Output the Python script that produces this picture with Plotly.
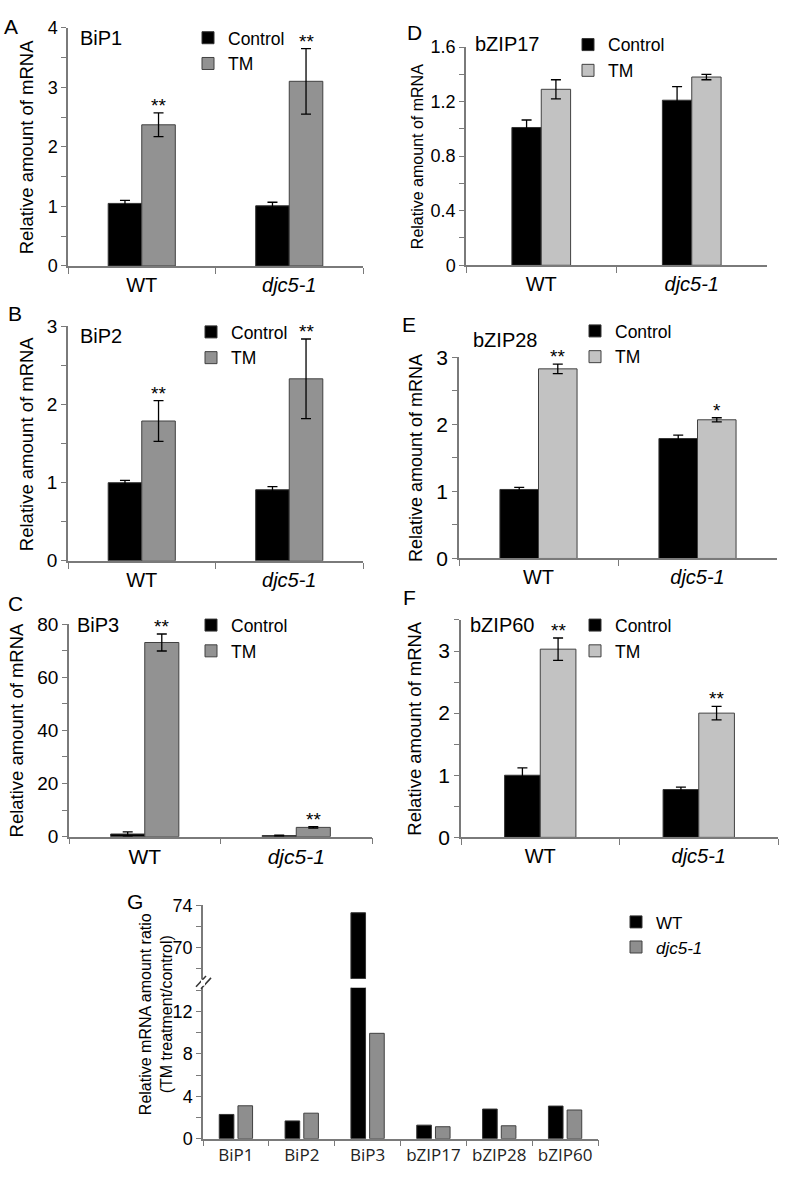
import plotly.graph_objects as go

W, H = 788, 1185
FONT = "Arial, Liberation Sans, sans-serif"
FONT_G = "Open Sans, Noto Sans, sans-serif"

# ---------------- data ----------------
groups = ["WT", "djc5-1"]
group_ticktext = ["WT", "<i>djc5-1</i>"]
series_names = ["Control", "TM"]

bip1_ctrl = [1.05, 1.01]
bip1_ctrl_err = [0.05, 0.06]
bip1_tm = [2.37, 3.10]
bip1_tm_err = [0.20, 0.55]
bip1_sig = ["**", "**"]

bip2_ctrl = [1.00, 0.91]
bip2_ctrl_err = [0.03, 0.04]
bip2_tm = [1.79, 2.33]
bip2_tm_err = [0.26, 0.51]
bip2_sig = ["**", "**"]

bip3_ctrl = [1.0, 0.4]
bip3_ctrl_err = [0.8, 0.2]
bip3_tm = [73.1, 3.5]
bip3_tm_err = [3.2, 0.3]
bip3_sig = ["**", "**"]

bzip17_ctrl = [1.01, 1.21]
bzip17_ctrl_err = [0.055, 0.10]
bzip17_tm = [1.29, 1.38]
bzip17_tm_err = [0.07, 0.02]
bzip17_sig = ["", ""]

bzip28_ctrl = [1.03, 1.79]
bzip28_ctrl_err = [0.03, 0.05]
bzip28_tm = [2.83, 2.07]
bzip28_tm_err = [0.07, 0.03]
bzip28_sig = ["**", "*"]

bzip60_ctrl = [1.00, 0.77]
bzip60_ctrl_err = [0.12, 0.04]
bzip60_tm = [3.03, 2.00]
bzip60_tm_err = [0.18, 0.11]
bzip60_sig = ["**", "**"]

genes = ["BiP1", "BiP2", "BiP3", "bZIP17", "bZIP28", "bZIP60"]
ratio_wt = [2.29, 1.68, 73.3, 1.28, 2.80, 3.08]
ratio_djc = [3.11, 2.41, 9.95, 1.13, 1.22, 2.71]
ratio_names = ["WT", "<i>djc5-1</i>"]

# ---------------- helpers ----------------
def fx(px):
    return px / W

def fy(py):
    return 1 - py / H

AXCOL = "#7a7a7a"
DARK_TM = "#929292"
LIGHT_TM = "#c2c2c2"

panels = [
    dict(letter="A", title="BiP1", ctrl=bip1_ctrl, ctrl_err=bip1_ctrl_err, tm=bip1_tm, tm_err=bip1_tm_err,
         sig=bip1_sig, xd=(68, 363), yd=(16, 259), yr=(0, 4), dt=1, mdt=0.5, tmcol=DARK_TM, gf=0.455,
         tickfs=18, xfs=20, ytfs=18.5, ytx=26.5, letter_xy=(10.5, 15), title_xy=(78, 26.5),
         leg_xy=(188, 8)),
    dict(letter="B", title="BiP2", ctrl=bip2_ctrl, ctrl_err=bip2_ctrl_err, tm=bip2_tm, tm_err=bip2_tm_err,
         sig=bip2_sig, xd=(68, 363), yd=(320.7, 559.7), yr=(0, 3), dt=1, mdt=0.5, tmcol=DARK_TM, gf=0.455,
         tickfs=19, xfs=20, ytfs=18.5, ytx=26.5, letter_xy=(14.5, 307.5), title_xy=(78, 330.5),
         leg_xy=(191, 308)),
    dict(letter="C", title="BiP3", ctrl=bip3_ctrl, ctrl_err=bip3_ctrl_err, tm=bip3_tm, tm_err=bip3_tm_err,
         sig=bip3_sig, xd=(69, 372), yd=(624.3, 841), yr=(0, 80), dt=20, mdt=10, tmcol=DARK_TM, gf=0.45,
         tickfs=19, xfs=21, ytfs=18.5, ytx=16, letter_xy=(16, 603.5), title_xy=(75, 625.5),
         leg_xy=(191, 607)),
    dict(letter="D", title="bZIP17", ctrl=bzip17_ctrl, ctrl_err=bzip17_ctrl_err, tm=bzip17_tm, tm_err=bzip17_tm_err,
         sig=bzip17_sig, xd=(466, 767), yd=(35.7, 258.3), yr=(0, 1.6), dt=0.4, mdt=0.2, tmcol=LIGHT_TM, gf=0.39,
         tickfs=18, xfs=20, ytfs=16, ytx=417, letter_xy=(414.5, 20.5), title_xy=(473, 32.5),
         leg_xy=(568, 15)),
    dict(letter="E", title="bZIP28", ctrl=bzip28_ctrl, ctrl_err=bzip28_ctrl_err, tm=bzip28_tm, tm_err=bzip28_tm_err,
         sig=bzip28_sig, xd=(459, 777), yd=(352.3, 557.3), yr=(0, 3), dt=1, mdt=0.5, tmcol=LIGHT_TM, gf=0.485,
         tickfs=21, xfs=20, ytfs=18, ytx=416, letter_xy=(409, 319), title_xy=(471, 334.5),
         leg_xy=(575, 307)),
    dict(letter="F", title="bZIP60", ctrl=bzip60_ctrl, ctrl_err=bzip60_ctrl_err, tm=bzip60_tm, tm_err=bzip60_tm_err,
         sig=bzip60_sig, xd=(461, 778), yd=(620, 841.7), yr=(0, 3.5), dt=1, mdt=0.5, tmcol=LIGHT_TM, gf=0.45,
         tickfs=21, xfs=20, ytfs=18.5, ytx=415, letter_xy=(409, 597.5), title_xy=(468, 625.5),
         leg_xy=(575, 607)),
]

fig = go.Figure()
layout = dict(
    width=W, height=H, autosize=False,
    margin=dict(l=0, r=0, t=0, b=0),
    paper_bgcolor="white", plot_bgcolor="white",
    barmode="group", showlegend=True,
    font=dict(family=FONT, color="black"),
)
annotations = []
shapes = []

def yaxis_common(p_dom, rng, tickfs):
    return dict(
        domain=[fy(p_dom[1]), fy(p_dom[0])], range=list(rng),
        showline=True, linecolor=AXCOL, linewidth=1.5,
        ticks="outside", ticklen=5, tickcolor=AXCOL, tickwidth=1.3,
        showgrid=False, zeroline=False,
        tickfont=dict(size=tickfs, family=FONT, color="black"),
    )

for i, p in enumerate(panels):
    n = i + 1
    xa = "x" if n == 1 else f"x{n}"
    ya = "y" if n == 1 else f"y{n}"
    leg = "legend" if n == 1 else f"legend{n}"
    w = p["gf"] / 2.0
    err_style = dict(type="data", visible=True, color="black", thickness=1.3, width=5)
    fig.add_trace(go.Bar(
        x=groups, y=p["ctrl"], name=series_names[0], width=w, offset=-w,
        marker=dict(color="black", line=dict(color="#333333", width=1)),
        error_y=dict(array=p["ctrl_err"], **err_style),
        xaxis=xa, yaxis=ya, legend=leg, showlegend=True,
    ))
    fig.add_trace(go.Bar(
        x=groups, y=p["tm"], name=series_names[1], width=w, offset=0,
        marker=dict(color=p["tmcol"], line=dict(color="#404040", width=1)),
        error_y=dict(array=p["tm_err"], **err_style),
        xaxis=xa, yaxis=ya, legend=leg, showlegend=True,
    ))
    layout[f"xaxis{'' if n == 1 else n}"] = dict(
        domain=[fx(p["xd"][0]), fx(p["xd"][1])], anchor=ya,
        type="category", range=[-0.5, 1.5],
        tickmode="array", tickvals=groups, ticktext=group_ticktext,
        tickson="boundaries", ticks="outside", ticklen=6, tickcolor=AXCOL, tickwidth=1.3,
        showline=True, linecolor=AXCOL, linewidth=1.5, showgrid=False, zeroline=False,
        tickfont=dict(size=p["xfs"], family=FONT, color="black"), tickangle=0,
        fixedrange=True,
    )
    ycfg = yaxis_common(p["yd"], p["yr"], p["tickfs"])
    ycfg.update(anchor=xa, tick0=0, dtick=p["dt"],
                minor=dict(dtick=p["mdt"], tick0=0, ticks="outside", ticklen=5,
                           tickcolor=AXCOL, tickwidth=1.2, showgrid=False))
    layout[f"yaxis{'' if n == 1 else n}"] = ycfg
    layout[leg] = dict(
        x=fx(p["leg_xy"][0]), y=fy(p["leg_xy"][1]), xanchor="left", yanchor="top",
        bgcolor="rgba(0,0,0,0)", borderwidth=0, tracegroupgap=0,
        font=dict(size=17.5, family=FONT, color="black"),
    )
    annotations.append(dict(text=p["letter"], x=fx(p["letter_xy"][0]), y=fy(p["letter_xy"][1]),
                            xref="paper", yref="paper", showarrow=False,
                            xanchor="center", yanchor="middle", font=dict(size=21, family=FONT)))
    annotations.append(dict(text=p["title"], x=fx(p["title_xy"][0]), y=fy(p["title_xy"][1]),
                            xref="paper", yref="paper", showarrow=False,
                            xanchor="left", yanchor="middle", font=dict(size=20, family=FONT)))
    annotations.append(dict(text="Relative amount of mRNA", textangle=-90,
                            x=fx(p["ytx"]), y=fy((p["yd"][0] + p["yd"][1]) / 2),
                            xref="paper", yref="paper", showarrow=False,
                            xanchor="center", yanchor="middle", font=dict(size=p["ytfs"], family=FONT)))
    for k, s in enumerate(p["sig"]):
        if s:
            annotations.append(dict(text=s, x=k + w / 2, y=p["tm"][k] + p["tm_err"][k],
                                    xref=xa, yref=ya, showarrow=False,
                                    xanchor="center", yanchor="bottom", yshift=-5,
                                    font=dict(size=19, family=FONT)))

# ---------------- panel G (broken axis) ----------------
gx_dom = (203, 598)
g_bot = (995, 1149)
g_top = (911, 986)
bw = 0.222
bgap = 0.031
fig.add_trace(go.Bar(x=genes, y=ratio_wt, name=ratio_names[0], width=bw, offset=-(bw + bgap),
                     marker=dict(color="black", line=dict(color="#333333", width=1)),
                     xaxis="x7", yaxis="y7", legend="legend7", showlegend=True))
fig.add_trace(go.Bar(x=genes, y=ratio_djc, name=ratio_names[1], width=bw, offset=bgap,
                     marker=dict(color="#8e8e8e", line=dict(color="#404040", width=1)),
                     xaxis="x7", yaxis="y7", legend="legend7", showlegend=True))
fig.add_trace(go.Bar(x=genes, y=ratio_wt, name=ratio_names[0], width=bw, offset=-(bw + bgap),
                     marker=dict(color="black", line=dict(color="#333333", width=1)),
                     xaxis="x7", yaxis="y8", showlegend=False))
fig.add_trace(go.Bar(x=genes, y=ratio_djc, name=ratio_names[1], width=bw, offset=bgap,
                     marker=dict(color="#8e8e8e", line=dict(color="#404040", width=1)),
                     xaxis="x7", yaxis="y8", showlegend=False))

layout["xaxis7"] = dict(
    domain=[fx(gx_dom[0]), fx(gx_dom[1])], anchor="y7", type="category",
    range=[-0.5, 5.5], tickson="boundaries", ticks="outside", ticklen=6,
    tickcolor=AXCOL, tickwidth=1.3, showline=True, linecolor=AXCOL, linewidth=1.5,
    showgrid=False, zeroline=False, tickangle=0,
    tickfont=dict(size=17, family=FONT_G, color="#222222"),
)
y7 = yaxis_common(g_bot, (0, 14.26), 18)
y7.update(anchor="x7", tickmode="array", tickvals=[0, 4, 8, 12],
          minor=dict(dtick=2, tick0=0, ticks="outside", ticklen=5, tickcolor=AXCOL, tickwidth=1.2))
layout["yaxis7"] = y7
y8 = yaxis_common(g_top, (67.06, 74), 18)
y8.update(anchor="x7", tickmode="array", tickvals=[70, 74],
          minor=dict(dtick=2, tick0=0, ticks="outside", ticklen=5, tickcolor=AXCOL, tickwidth=1.2))
layout["yaxis8"] = y8
layout["legend7"] = dict(
    x=fx(616), y=fy(910), xanchor="left", yanchor="top",
    bgcolor="rgba(0,0,0,0)", borderwidth=0, tracegroupgap=0,
    font=dict(size=17, family=FONT, color="black"),
)
annotations.append(dict(text="G", x=fx(135), y=fy(907.5), xref="paper", yref="paper",
                        showarrow=False, xanchor="center", yanchor="middle", font=dict(size=21, family=FONT)))
annotations.append(dict(text="Relative mRNA amount ratio<br>(TM treatment/control)", textangle=-90,
                        x=fx(156), y=fy(1022), xref="paper", yref="paper", showarrow=False,
                        xanchor="center", yanchor="middle", font=dict(size=16, family=FONT)))
gx0 = gx_dom[0]
for dx in (0, 5):
    shapes.append(dict(type="line", xref="paper", yref="paper",
                       x0=fx(gx0 - 7 + dx), y0=fy(994 + dx * 0.4), x1=fx(gx0 + 3 + dx), y1=fy(983 + dx * 0.4),
                       line=dict(color="#333333", width=1.5)))
shapes.append(dict(type="rect", xref="paper", yref="paper",
                   x0=fx(gx0 - 2), x1=fx(gx0 + 2), y0=fy(993), y1=fy(987),
                   line=dict(width=0), fillcolor="white"))

layout["annotations"] = annotations
layout["shapes"] = shapes
fig.update_layout(**layout)
fig.write_html("out.html", config={"displayModeBar": False},
               post_script="document.body.style.margin='0px';")
